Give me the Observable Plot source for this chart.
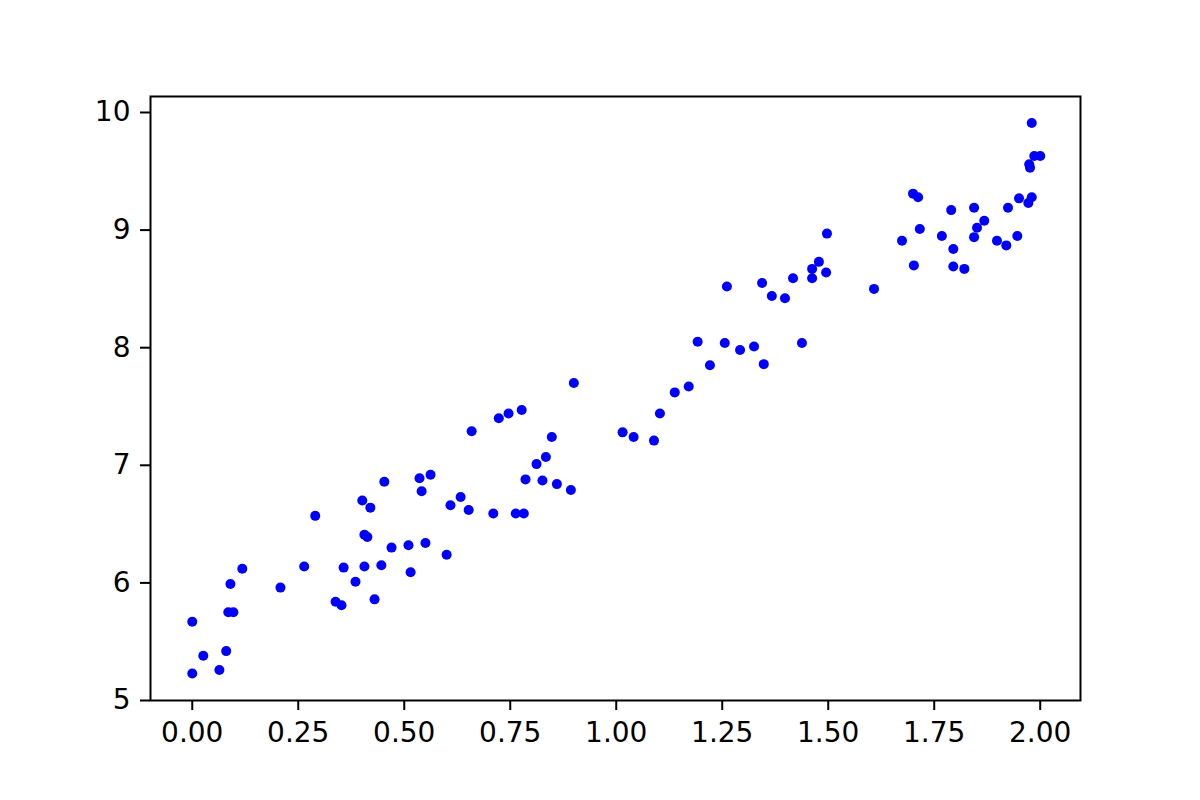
<!DOCTYPE html>
<html>
<head>
<meta charset="utf-8">
<script src="https://cdn.jsdelivr.net/npm/d3@7"></script>
<script src="https://cdn.jsdelivr.net/npm/@observablehq/plot@0.6"></script>
<style>
  html, body { margin: 0; padding: 0; background: #fff; }
  #chart svg { display: block; }
</style>
</head>
<body>
<div id="chart"></div>
<script>
const xValues = [0.00, 0.00, 0.026, 0.064, 0.08, 0.09, 0.085, 0.097, 0.118, 0.208,
  0.264, 0.29, 0.338, 0.352, 0.357, 0.385, 0.401, 0.406, 0.413, 0.406,
  0.42, 0.43, 0.446, 0.453, 0.47, 0.51, 0.515, 0.536, 0.541, 0.55,
  0.562, 0.60, 0.609, 0.633, 0.652, 0.659, 0.71, 0.723, 0.746, 0.763,
  0.777, 0.782, 0.786, 0.812, 0.826, 0.834, 0.848, 0.86, 0.893, 0.90,
  1.015, 1.041, 1.089, 1.103, 1.138, 1.171, 1.192, 1.221, 1.256, 1.261,
  1.292, 1.325, 1.344, 1.348, 1.367, 1.398, 1.417, 1.438, 1.462, 1.462,
  1.478, 1.495, 1.497, 1.608, 1.674, 1.700, 1.712, 1.702, 1.716, 1.768,
  1.79, 1.795, 1.795, 1.821, 1.844, 1.844, 1.851, 1.868, 1.898, 1.92,
  1.924, 1.946, 1.950, 1.972, 1.974, 1.976, 1.98, 1.98, 1.986, 2.00];
const yValues = [5.67, 5.23, 5.38, 5.26, 5.42, 5.99, 5.75, 5.75, 6.12, 5.96,
  6.14, 6.57, 5.84, 5.81, 6.13, 6.01, 6.70, 6.41, 6.39, 6.14,
  6.64, 5.86, 6.15, 6.86, 6.30, 6.32, 6.09, 6.89, 6.78, 6.34,
  6.92, 6.24, 6.66, 6.73, 6.62, 7.29, 6.59, 7.40, 7.44, 6.59,
  7.47, 6.59, 6.88, 7.01, 6.87, 7.07, 7.24, 6.84, 6.79, 7.70,
  7.28, 7.24, 7.21, 7.44, 7.62, 7.67, 8.05, 7.85, 8.04, 8.52,
  7.98, 8.01, 8.55, 7.86, 8.44, 8.42, 8.59, 8.04, 8.67, 8.59,
  8.73, 8.64, 8.97, 8.50, 8.91, 9.31, 9.28, 8.70, 9.01, 8.95,
  9.17, 8.84, 8.69, 8.67, 9.19, 8.94, 9.02, 9.08, 8.91, 8.87,
  9.19, 8.95, 9.27, 9.23, 9.56, 9.53, 9.28, 9.91, 9.63, 9.63];
const xTicks = [0, 0.25, 0.5, 0.75, 1.0, 1.25, 1.5, 1.75, 2.0];
const yTicks = [5, 6, 7, 8, 9, 10];

const data = xValues.map((x, i) => ({x, y: yValues[i]}));

const chart = Plot.plot({
  width: 1200,
  height: 800,
  marginLeft: 150,
  marginRight: 120,
  marginTop: 96,
  marginBottom: 100,
  style: {fontFamily: "DejaVu Sans", fontSize: "28px", color: "black", background: "white"},
  x: {domain: [-0.0985, 2.095], ticks: xTicks, tickFormat: d3.format(".2f"), label: null},
  y: {domain: [5, 10.136], ticks: yTicks, tickFormat: d3.format("d"), label: null},
  marks: [
    Plot.dot(data, {x: "x", y: "y", r: 5, fill: "blue", stroke: "none"}),
    Plot.frame({stroke: "black", strokeWidth: 2}),
    Plot.axisX({ticks: xTicks, tickFormat: d3.format(".2f"), tickSize: 10, tickPadding: 12, strokeWidth: 2, label: null}),
    Plot.axisY({ticks: yTicks, tickFormat: d3.format("d"), tickSize: 10, tickPadding: 10, strokeWidth: 2, label: null})
  ]
});
document.getElementById("chart").appendChild(chart);
</script>
</body>
</html>
